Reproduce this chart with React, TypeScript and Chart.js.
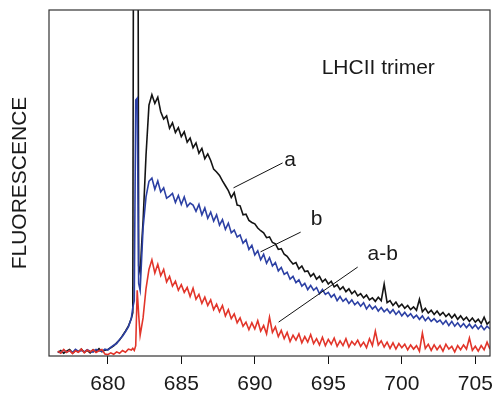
import React, { useEffect, useRef } from "react";
import { Chart, registerables } from "chart.js";

Chart.register(...registerables);

// Wavelength (nm)
const wavelength = [
  676.6, 676.8, 677.0, 677.2, 677.4, 677.6, 677.8, 678.0, 678.2, 678.4,
  678.6, 678.8, 679.0, 679.2, 679.4, 679.6, 679.8, 680.0, 680.2, 680.4,
  680.6, 680.8, 681.0, 681.2, 681.4, 681.6,
  681.7, 681.8, 681.9, 682.0, 682.1, 682.2, 682.3, 682.4,
  682.6, 682.8, 683.0, 683.2, 683.4, 683.6, 683.8, 684.0, 684.2, 684.4,
  684.6, 684.8, 685.0, 685.2, 685.4, 685.6, 685.8, 686.0, 686.2, 686.4,
  686.6, 686.8, 687.0, 687.2, 687.4, 687.6, 687.8, 688.0, 688.2, 688.4,
  688.6, 688.8, 689.0, 689.2, 689.4, 689.6, 689.8, 690.0, 690.2, 690.4,
  690.6, 690.8, 691.0, 691.2, 691.4, 691.6, 691.8, 692.0, 692.2, 692.4,
  692.6, 692.8, 693.0, 693.2, 693.4, 693.6, 693.8, 694.0, 694.2, 694.4,
  694.6, 694.8, 695.0, 695.2, 695.4, 695.6, 695.8, 696.0, 696.2, 696.4,
  696.6, 696.8, 697.0, 697.2, 697.4, 697.6, 697.8, 698.0, 698.2, 698.4,
  698.6, 698.8, 699.0, 699.2, 699.4, 699.6, 699.8, 700.0, 700.2, 700.4,
  700.6, 700.8, 701.0, 701.2, 701.4, 701.6, 701.8, 702.0, 702.2, 702.4,
  702.6, 702.8, 703.0, 703.2, 703.4, 703.6, 703.8, 704.0, 704.2, 704.4,
  704.6, 704.8, 705.0, 705.2, 705.4, 705.6, 705.8, 706.0,
];

// Spectrum a (black)
const seriesA = [
  1.0, 1.6, 0.8, 1.4, 1.9, 0.9, 1.5, 1.2, 2.0, 1.1,
  1.6, 0.9, 1.8, 1.3, 2.1, 1.2, 1.7, 1.9, 2.4, 2.9,
  3.8, 4.6, 5.9, 7.2, 8.6, 10.8,
  12.5, 250, 400, 250, 26, 24, 32, 39,
  58.0, 72.5, 75.5, 73.0, 74.8, 70.6, 68.5, 69.4, 65.8, 67.4,
  64.6, 66.0, 63.4, 64.8, 61.8, 63.0, 60.2, 61.6, 58.6, 60.0,
  57.0, 58.4, 56.5, 54.0, 53.2, 52.2, 50.6, 49.2, 47.8, 45.8,
  47.2, 43.6, 43.4, 40.8, 41.0, 39.2, 38.6, 38.2, 37.0, 36.2,
  35.6, 34.2, 34.4, 32.8, 32.4, 30.8, 31.0, 29.4, 28.8, 27.6,
  26.6, 27.0, 25.2, 26.0, 24.4, 24.6, 23.0, 23.8, 22.2, 23.0,
  21.4, 22.2, 20.8, 21.6, 20.0, 20.6, 19.2, 20.0, 18.6, 19.4,
  18.0, 18.8, 17.4, 18.0, 16.8, 17.6, 16.2, 16.8, 15.8, 17.0,
  16.0, 20.8, 15.4, 16.0, 14.6, 15.6, 14.2, 15.0, 13.8, 14.6,
  13.4, 14.2, 13.2, 16.4, 12.8, 13.8, 12.4, 13.2, 12.0, 13.0,
  11.8, 12.6, 11.4, 12.2, 11.0, 12.0, 10.6, 11.6, 10.4, 11.2,
  10.0, 11.0, 9.8, 10.6, 9.4, 11.2, 9.2, 10.0,
];

// Spectrum b (blue)
const seriesB = [
  1.3, 0.9, 1.7, 1.1, 1.5, 1.0, 1.9, 1.3, 1.6, 1.2,
  1.8, 1.4, 1.1, 1.9, 1.5, 1.3, 2.0, 1.7, 2.5, 3.1,
  3.6, 4.8, 5.7, 7.0, 8.4, 10.9,
  14.0, 16.0, 74, 74.5, 21, 19, 28, 37,
  46.0, 50.5, 51.4, 48.2, 50.6, 47.4, 48.6, 45.6, 46.2, 47.0,
  44.4, 46.4, 43.8, 46.0, 43.2, 44.2, 43.6, 41.8, 43.8, 40.8,
  42.8, 39.8, 41.6, 39.0, 40.8, 37.8, 39.4, 36.6, 38.4, 35.6,
  36.4, 34.4, 35.0, 32.6, 33.6, 30.8, 32.0, 29.2, 30.4, 27.8,
  29.4, 26.8, 28.4, 26.0, 27.0, 24.6, 25.6, 23.6, 24.2, 22.2,
  23.0, 21.2, 22.0, 20.2, 21.0, 19.2, 20.4, 19.0, 19.8, 18.0,
  19.2, 17.8, 18.4, 17.0, 17.8, 16.0, 17.2, 15.8, 16.6, 15.2,
  16.2, 14.8, 15.6, 14.4, 15.4, 13.6, 14.8, 13.6, 14.4, 13.0,
  14.0, 12.8, 13.6, 12.4, 13.4, 12.0, 13.0, 11.6, 12.6, 11.4,
  12.2, 11.0, 11.8, 10.6, 11.6, 10.2, 11.2, 10.0, 10.8, 9.8,
  10.4, 9.2, 10.2, 8.8, 10.0, 8.6, 9.6, 8.4, 9.4, 8.2,
  9.2, 8.0, 9.0, 7.8, 8.8, 7.6, 8.6, 7.8,
];

// Difference a-b (red)
const seriesAB = [
  1.4, 0.8, 1.9, 1.0, 1.6, 0.7, 1.5, 1.1, 2.0, 0.9,
  1.7, 1.2, 1.8, 1.0, 1.5, 1.9, 0.6, 0.4, 0.9, 0.5,
  1.2, 0.8, 1.6, 1.1, 2.0, 1.7,
  2.2, 1.6, 3.0, 19, 12, 6, 8.5, 11,
  19.5, 25.0, 27.8, 24.0, 26.5, 23.2, 25.0, 21.4, 23.0, 20.2,
  21.6, 19.0, 20.6, 18.4, 19.8, 17.2, 19.6, 16.4, 17.8, 15.2,
  17.0, 14.6, 16.2, 13.4, 15.0, 12.8, 14.6, 11.6, 13.4, 10.8,
  12.2, 9.6, 11.0, 8.6, 9.8, 7.6, 9.6, 7.8, 10.2, 7.2,
  8.8, 6.4, 11.2, 6.8, 8.4, 5.6, 7.4, 5.0, 6.8, 4.2,
  6.0, 4.6, 6.4, 3.8, 5.6, 4.0, 6.2, 3.6, 5.0, 3.2,
  5.4, 3.0, 4.8, 3.4, 5.2, 2.8, 4.4, 3.0, 5.0, 2.6,
  4.2, 3.2, 4.6, 2.8, 4.0, 2.4, 5.0, 3.0, 7.2, 3.2,
  4.4, 2.6, 4.0, 2.2, 3.8, 2.0, 3.6, 2.4, 3.4, 1.8,
  3.2, 2.0, 3.0, 1.4, 6.6, 2.2, 3.4, 1.6, 3.2, 1.8,
  3.0, 1.4, 3.4, 2.0, 2.8, 1.2, 3.0, 1.8, 3.2, 2.0,
  5.2, 1.6, 2.8, 1.4, 3.0, 1.8, 4.0, 2.0,
];

const xTicks = [680, 685, 690, 695, 700, 705];

// Text labels in data coordinates
const labelTexts = ["LHCII trimer", "a", "b", "a-b"];
const labelX = [698.4, 692.4, 694.2, 698.7];
const labelY = [83.2, 56.6, 39.6, 29.5];
// Leader lines in data coordinates
const leaderX1 = [688.55, 690.39, 691.62];
const leaderY1 = [48.6, 30.1, 9.8];
const leaderX2 = [691.89, 693.12, 697.0];
const leaderY2 = [55.8, 35.8, 25.7];

const FONT = "'Liberation Sans', Arial, Helvetica, sans-serif";

export default function App() {
  const ref = useRef<HTMLCanvasElement | null>(null);

  useEffect(() => {
    if (!ref.current) return;
    const toPts = (ys: number[]) => wavelength.map((x, i) => ({ x, y: ys[i] }));

    const overlay = {
      id: "overlay",
      afterDatasetsDraw(chart: any) {
        const { ctx, chartArea, scales } = chart;
        const xs = scales.x;
        const ys = scales.y;
        ctx.save();
        ctx.strokeStyle = "#333";
        ctx.lineWidth = 1.2;
        ctx.strokeRect(chartArea.left, chartArea.top, chartArea.right - chartArea.left, chartArea.bottom - chartArea.top);
        ctx.strokeStyle = "#111";
        ctx.lineWidth = 1;
        for (let i = 0; i < leaderX1.length; i++) {
          ctx.beginPath();
          ctx.moveTo(xs.getPixelForValue(leaderX1[i]), ys.getPixelForValue(leaderY1[i]));
          ctx.lineTo(xs.getPixelForValue(leaderX2[i]), ys.getPixelForValue(leaderY2[i]));
          ctx.stroke();
        }
        ctx.fillStyle = "#1a1a1a";
        ctx.font = `21px ${FONT}`;
        ctx.textAlign = "center";
        ctx.textBaseline = "middle";
        for (let i = 0; i < labelTexts.length; i++) {
          ctx.fillText(labelTexts[i], xs.getPixelForValue(labelX[i]), ys.getPixelForValue(labelY[i]));
        }
        ctx.restore();
      },
    };

    const chart = new Chart(ref.current, {
      type: "line",
      data: {
        datasets: [
          { label: "a", data: toPts(seriesA), borderColor: "#141414", borderWidth: 1.6, pointRadius: 0, order: 3 },
          { label: "b", data: toPts(seriesB), borderColor: "#2c40a4", borderWidth: 1.6, pointRadius: 0, order: 2 },
          { label: "a-b", data: toPts(seriesAB), borderColor: "#e2352a", borderWidth: 1.6, pointRadius: 0, order: 1 },
        ],
      },
      options: {
        animation: false,
        responsive: false,
        devicePixelRatio: 1,
        layout: { padding: { top: 10, right: 4, left: 0, bottom: 0 } },
        plugins: { legend: { display: false }, tooltip: { enabled: false } },
        elements: { line: { tension: 0, borderJoinStyle: "miter" } },
        scales: {
          x: {
            type: "linear",
            min: 676,
            max: 706,
            border: { display: false },
            grid: { display: true, drawOnChartArea: false, drawTicks: true, tickLength: 8, color: "#111", lineWidth: 1 },
            ticks: {
              stepSize: 5,
              includeBounds: false,
              padding: 8,
              color: "#1a1a1a",
              font: { family: FONT, size: 21 },
              maxRotation: 0,
            },
            afterBuildTicks: (s: any) => {
              s.ticks = xTicks.map((v) => ({ value: v }));
            },
            afterFit: (s: any) => {
              s.height = 37;
              s.paddingLeft = 0;
              s.paddingRight = 0;
            },
          },
          y: {
            type: "linear",
            min: 0,
            max: 100,
            border: { display: false },
            grid: { display: false },
            ticks: { display: false },
            title: {
              display: true,
              text: "FLUORESCENCE",
              color: "#1a1a1a",
              font: { family: FONT, size: 21, weight: "normal" },
              padding: { top: 8, bottom: 0 },
            },
            afterFit: (s: any) => {
              s.width = 49;
            },
          },
        },
      },
      plugins: [overlay],
    });
    return () => chart.destroy();
  }, []);

  return (
    <div style={{ position: "fixed", left: 0, top: 0, width: 494, height: 393, background: "#fff" }}>
      <canvas ref={ref} width={494} height={393} style={{ display: "block", width: 494, height: 393 }} />
    </div>
  );
}
